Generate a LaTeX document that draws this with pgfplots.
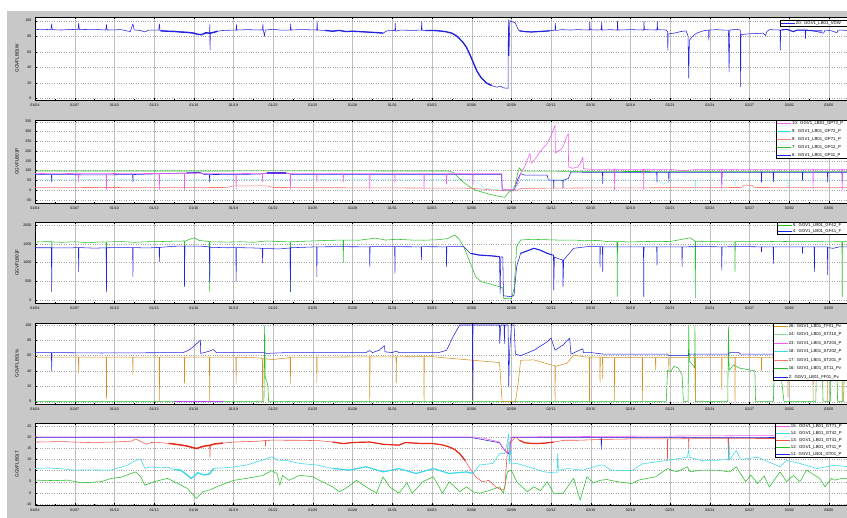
\documentclass[border=0pt]{standalone}
\usepackage{fontspec}
\setmainfont{Liberation Sans}
\usepackage{pgfplots}
\pgfplotsset{compat=1.18}
\definecolor{mblue}{RGB}{35,35,225}
\definecolor{mgreen}{RGB}{40,190,40}
\definecolor{mmag}{RGB}{245,90,245}
\definecolor{mcyan}{RGB}{60,215,235}
\definecolor{msalmon}{RGB}{250,120,110}
\definecolor{morange}{RGB}{215,145,35}
\definecolor{mred}{RGB}{230,40,25}
\definecolor{mgray}{RGB}{200,200,200}
\definecolor{mlgreen}{RGB}{130,220,150}
\pgfplotsset{
 mat/.style={
  scale only axis, width=833.7pt,
  xmin=0, xmax=63,
  xtick={0,3,...,60},
  xticklabels={01/04,01/07,01/10,01/13,01/16,01/19,01/22,01/25,01/28,01/31,02/03,02/06,02/09,02/12,02/15,02/18,02/21,02/24,02/27,03/02,03/05},
  minor x tick num=1, minor y tick num=1,
  tick align=inside,
  major tick length=2.2pt, minor tick length=1.3pt,
  every tick/.style={black, line width=0.3pt},
  xmajorgrids, ymajorgrids,
  every axis x grid/.append style={black!25, line width=0.35pt},
  every axis y grid/.append style={dotted, black!35, line width=0.35pt},
  axis line style={line width=0.4pt},
  tick label style={font=\fontsize{3.6}{4}\selectfont},
  /pgf/number format/assume math mode=true,
  /pgf/number format/1000 sep={},
  scaled y ticks=false,
  axis background/.style={fill=white},
  every axis y label/.style={at={(axis description cs:-0.0216,0.5)}, anchor=center, rotate=90, font=\fontsize{4.6}{5}\selectfont},
  legend cell align=left,
  legend style={anchor=north west, draw=black, line width=0.3pt, fill=white, font=\fontsize{4.3}{5}\selectfont, inner sep=0.6pt, nodes={text height=3.2pt, text depth=0.9pt, inner sep=0.5pt, text width=62pt, align=left}},
  legend image code/.code={\draw[##1, line width=0.7pt] (0pt,0pt) -- (14pt,0pt);},
  every axis plot/.append style={no marks, line width=0.55pt, line join=round, forget plot},
 }
}
\begin{document}
\begin{tikzpicture}
\useasboundingbox (0,0) rectangle (847pt,518pt);
\clip (0,0) rectangle (847pt,518pt);
\fill[mgray] (7pt,0) rectangle (847pt,507pt);

% ---------------- Panel 1
\begin{axis}[mat, at={(35pt,418pt)}, anchor=south west, height=83pt,
 ymin=-2.06, ymax=104.8, ytick={0,20,...,100}, ylabel={GGVFLB01W},
 legend style={at={(0.8936,0.964)}}]
\addplot[mblue] coordinates {(0,88.5)(0.5,89)(1.2,88.5)(1.26,96)(1.3,88.5)(2,88)(2.6,88.8)(3.25,88.5)(3.3,97)(3.35,88.5)(4.5,89)(5.35,88)(5.4,95)(5.45,88)(6.5,88.5)(7.2,86)(7.4,96)(7.5,88)(8,87.5)(8.3,85.5)(8.6,88)(9.35,88)(9.4,96)(9.45,87)(10,86.5)(10.5,86.2)(11,85.5)(11.5,85)(12,84)(12.3,82.5)(12.6,82)(12.9,84.5)(13.2,84)(13.21,96)(13.23,62)(13.25,84)(13.5,85)(13.8,86.5)(14.2,87.5)(15.2,88)(15.22,95)(15.25,88)(16,88.5)(17.2,88)(17.22,96)(17.25,88)(17.35,80)(17.4,88)(18,89)(18.5,88)(19.3,88)(19.32,96)(19.35,88)(20,88.5)(20.5,88.5)(21.3,88)(21.32,99)(21.35,88)(21.9,87.5)(22.5,86.5)(23,87.5)(23.5,86)(24,86.5)(24.5,86)(25,85.5)(25.5,85)(26,84.5)(26.3,84)(26.6,87)(27.2,87.5)(27.22,97)(27.25,86.5)(27.6,88)(28.5,87.5)(29.2,88)(29.22,99)(29.25,87.5)(30,87.5)(30.5,87)(31,86)(31.5,84)(31.9,80)(32.3,73)(32.6,66)(32.9,55)(33.1,47)(33.4,35)(33.7,27)(34.1,20)(34.5,16.5)(34.9,14.5)(35.2,15.5)(35.4,13.5)(35.75,13)(35.77,101)(35.82,55)(35.88,100)(36.3,97)(36.5,89)(36.6,87)(37,86)(37.5,85.5)(38,86)(38.5,86.5)(38.9,87)(39.3,88)(39.32,97)(39.35,87.5)(39.8,88.5)(40.5,88)(41,88.5)(41.9,88)(41.92,98)(41.95,88.5)(42.5,88)(42.8,88.5)(42.82,98)(42.85,88)(43.5,88.5)(44,88)(44.02,99)(44.05,88)(45,88.5)(46,88)(46.02,99)(46.05,88.5)(47,88)(47.02,99)(47.05,88.5)(47.7,88)(47.8,86)(47.82,62)(47.85,83)(48.3,84)(48.8,86)(49.2,87)(49.35,80)(49.4,26)(49.45,75)(49.7,80)(50,84)(50.5,87)(50.9,88)(50.92,75)(50.95,88)(51.5,88.5)(52,88)(52.4,88)(52.45,34)(52.5,88)(53,89)(53.3,88)(53.32,15)(53.35,82)(53.8,83)(54.5,83.5)(55,84)(55.2,81)(55.3,86)(55.5,88.5)(56.3,88)(56.32,62)(56.35,88)(56.8,89)(57.3,86)(57.6,88)(58.2,88)(58.22,77)(58.25,88)(58.8,87)(59.6,84)(59.7,88)(60.2,87)(60.6,84.5)(60.7,88)(61.5,87.5)(62.3,88)(63,88)};
\addplot[mblue, line width=1.4pt] coordinates {(9.5,87)(10,86.5)(10.5,86.2)(11,85.5)(11.5,85)(12,84)(12.3,82.5)(12.6,82)(12.9,84.5)(13.2,84)(13.5,85)(13.8,86.5)};
\addplot[mblue, line width=1.3pt] coordinates {(21.9,87.5)(22.5,86.5)(23,87.5)(23.5,86)(24,86.5)(24.5,86)(25,85.5)(25.5,85)(26,84.5)(26.3,84)};
\addplot[mblue, line width=1.3pt] coordinates {(29.5,87.5)(30,87.5)(30.5,87)(31,86)(31.5,84)(31.9,80)(32.3,73)(32.6,66)(32.9,55)(33.1,47)(33.4,35)(33.7,27)(34.1,20)(34.5,16.5)};
\addplot[mblue, line width=1.2pt] coordinates {(36.6,87)(37,86)(37.5,85.5)(38,86)(38.5,86.5)(38.9,87)};
\addplot[mblue, line width=1.0pt] coordinates {(56.4,88)(56.8,89)(57.3,86)(57.6,88)(58.1,88)(58.8,87)(59.5,87)};
\addlegendimage{mblue}\addlegendentry{20: GGV1\_LB01\_VDW}
\end{axis}

% ---------------- Panel 2
\begin{axis}[mat, at={(35pt,315pt)}, anchor=south west, height=83pt,
 ymin=-65.3, ymax=358.7, ytick={-50,0,...,350}, ylabel={GGVFLB01P},
 legend style={at={(0.889,1)}, row sep=2.9pt}]
\addplot[mblue] coordinates {(0,80)(1.24,80)(1.26,42)(1.28,80)(5,78)(7.38,80)(7.4,42)(7.42,80)(11.5,88)(12.5,90)(12.8,80)(13.18,80)(13.2,42)(13.22,80)(17,82)(17.5,88)(19,88)(19.5,80)(25,80)(30,80)(35.25,80)(35.3,0)(36.2,0)(36.5,60)(36.7,85)(37,77)(38.7,77)(38.8,51)(39.18,51)(39.2,9)(39.22,51)(39.88,51)(39.9,9)(39.92,51)(40.3,60)(40.5,93)(42,91)(42.88,91)(42.9,34)(42.92,91)(46.98,91)(47,42)(47.02,91)(47.88,91)(47.9,42)(47.92,91)(51.88,91)(51.9,30)(51.92,91)(54.88,91)(54.9,42)(54.92,91)(55.78,91)(55.8,42)(55.82,91)(57.98,91)(58,50)(58.02,91)(59.88,91)(59.9,40)(59.92,91)(60.98,91)(61,45)(61.02,91)(63,91)};
\addplot[mgreen] coordinates {(0,98)(10,98)(20,98.5)(31.3,98)(31.6,90)(32,65)(32.4,40)(32.8,20)(33.3,0)(33.8,-10)(34.3,-20)(34.8,-28)(35.2,-33)(35.5,-36)(35.8,-10)(36.1,0)(36.3,30)(36.5,95)(36.6,115)(36.8,98)(42,96)(50,95)(63,95)};
\addplot[msalmon] coordinates {(0,13)(5,14)(10,13)(14.5,14)(15,22)(17.5,22)(18,14)(25,12)(30,11)(33,10)(35.3,-3)(36.4,-3)(36.7,9)(40,11)(43.78,12)(43.8,0)(43.82,12)(50,13)(53.4,14)(53.6,26)(54.2,24)(54.4,14)(58,13)(63,13)};
\addplot[mcyan, densely dotted] coordinates {(0,53)(5,55)(10,52)(15,55)(20,54)(25,56)(30,55)(33,55)(33.5,35)(34,10)(35.3,0)(36.3,0)(36.7,55)(40,52)(45,51)(47,51)(47.5,30)(48,51)(49.88,51)(49.9,5)(49.92,51)(52.88,51)(52.9,20)(52.92,51)(56.88,51)(56.9,10)(56.92,51)(60,51)(63,51)};
\addplot[mmag] coordinates {(0,85)(1.5,86)(3.28,85)(3.3,42)(3.32,85)(5.38,85)(5.4,3)(5.42,85)(7,86)(9.38,85)(9.4,3)(9.42,85)(11.28,85)(11.3,3)(11.32,86)(12,88)(13,85)(15.18,85)(15.2,3)(15.22,85)(17.18,86)(17.2,42)(17.22,86)(19.28,86)(19.3,3)(19.32,85)(21.28,85)(21.3,42)(21.32,85)(23.28,85)(23.3,42)(23.32,85)(25.28,85)(25.3,3)(25.32,85)(27.18,85)(27.2,42)(27.22,85)(29.38,85)(29.4,3)(29.42,85)(31.08,85)(31.1,30)(31.12,85)(33.08,85)(33.1,30)(33.12,85)(35.28,85)(35.32,5)(36.2,3)(36.5,40)(36.7,85)(37,120)(37.4,188)(37.5,137)(37.8,160)(38.2,200)(38.7,238)(39,280)(39.3,332)(39.32,190)(39.5,200)(39.7,205)(39.9,222)(40.1,260)(40.3,290)(40.32,119)(40.6,112)(41,118)(41.2,135)(41.4,170)(41.45,110)(42,107)(43,106)(43.78,106)(43.8,3)(43.82,106)(45.98,106)(46,3)(46.02,106)(48,106)(49,100)(50,106)(51.88,106)(51.9,3)(51.92,106)(53,107)(55,106)(58.78,106)(58.8,3)(58.82,106)(60.98,106)(61,3)(61.02,106)(63,106)};
\addplot[mblue!70!mmag, line width=1.1pt] coordinates {(11.5,88)(12.5,90)};
\addplot[mblue!70!mmag, line width=1.1pt] coordinates {(17.5,88)(19,88)};
\addlegendimage{mmag}\addlegendentry{10: GGV1\_LB01\_GP73\_P}
\addlegendimage{mcyan}\addlegendentry{9: GGV1\_LB01\_GP72\_P}
\addlegendimage{msalmon}\addlegendentry{8: GGV1\_LB01\_GP71\_P}
\addlegendimage{mgreen}\addlegendentry{7: GGV1\_LB01\_GP12\_P}
\addlegendimage{mblue}\addlegendentry{6: GGV1\_LB01\_GP11\_P}
\end{axis}

% ---------------- Panel 3
\begin{axis}[mat, at={(35pt,215pt)}, anchor=south west, height=81pt,
 ymin=-71.7, ymax=2079.7, ytick={0,500,...,2000}, ylabel={GGVFLB01F},
 legend style={at={(0.890,1)}, row sep=0.9pt}]
\addplot[mgreen] coordinates {(0,1545)(1,1560)(1.25,1555)(1.26,880)(1.28,1550)(2,1540)(3,1555)(4,1530)(5,1550)(5.38,1545)(5.4,240)(5.42,1550)(6.5,1560)(7.5,1540)(8.5,1555)(9.5,1560)(10.5,1570)(11.28,1575)(11.3,380)(11.32,1570)(12,1660)(12.4,1590)(13.18,1560)(13.2,230)(13.22,1555)(14.5,1545)(15.5,1555)(16.5,1540)(17.5,1575)(18.5,1560)(19.28,1550)(19.3,230)(19.32,1555)(20.5,1570)(22,1590)(23.28,1600)(23.3,1000)(23.32,1600)(24.5,1595)(25.7,1650)(26.5,1600)(27.3,1620)(28.5,1600)(29.4,1595)(30.5,1610)(31.2,1640)(31.7,1734)(32,1650)(32.4,1424)(32.9,983)(33.3,627)(33.7,500)(34.2,451)(34.7,400)(35.1,362)(35.35,330)(35.4,50)(36,40)(36.2,300)(36.4,1424)(36.7,1601)(37.5,1620)(38.5,1610)(39.5,1600)(40.8,1600)(41.5,1580)(42.5,1590)(43.3,1560)(43.98,1560)(44,96)(44.02,1560)(45,1550)(46,1560)(47,1565)(48,1560)(49.5,1660)(49.88,1570)(49.9,60)(49.92,1570)(50.5,1560)(51.5,1555)(52.88,1550)(52.9,760)(52.92,1555)(54,1560)(55,1555)(56,1565)(57,1560)(58,1555)(59,1560)(60,1550)(60.98,1560)(61,96)(61.02,1560)(62,1555)(63,1555)};
\addplot[mblue] coordinates {(0,1395)(1.24,1395)(1.26,228)(1.28,1395)(2.5,1390)(3.28,1400)(3.3,760)(3.32,1400)(4.5,1385)(5.38,1395)(5.4,230)(5.42,1395)(6.5,1400)(7.38,1400)(7.4,628)(7.42,1400)(8.5,1390)(9.38,1405)(9.4,1027)(9.42,1405)(10.5,1435)(11.28,1440)(11.3,362)(11.32,1440)(12.5,1438)(13.18,1420)(13.2,500)(13.22,1410)(14.5,1395)(15.18,1400)(15.2,495)(15.22,1400)(16.5,1390)(17.18,1380)(17.2,1000)(17.22,1375)(18.5,1365)(19.28,1390)(19.3,228)(19.32,1395)(20.5,1410)(21.28,1420)(21.3,627)(21.32,1420)(23,1424)(25.28,1420)(25.3,893)(25.32,1424)(27.18,1425)(27.2,715)(27.22,1424)(29.18,1420)(29.2,1070)(29.22,1424)(31.08,1420)(31.1,893)(31.12,1424)(32.4,1424)(32.9,1248)(33.6,1200)(34.5,1180)(35.1,1159)(35.15,183)(35.2,1150)(35.35,1150)(35.4,120)(36,95)(36.2,140)(36.4,900)(36.7,1248)(37.7,1380)(38.2,1330)(38.7,1248)(39.18,1200)(39.2,274)(39.25,1150)(39.6,1100)(39.88,1070)(39.9,362)(39.95,1070)(40.7,1380)(41.7,1424)(42.68,1424)(42.7,893)(42.72,1424)(42.88,1424)(42.9,760)(42.92,1420)(44.5,1420)(45.98,1420)(46,96)(46.02,1420)(46.98,1420)(47,937)(47.02,1420)(48.88,1420)(48.9,893)(48.92,1420)(50.5,1425)(51.88,1420)(51.9,805)(51.92,1420)(53.5,1425)(54.88,1420)(54.9,1290)(54.92,1420)(55.78,1420)(55.8,980)(55.82,1420)(57.98,1420)(58,1248)(58.02,1420)(58.88,1420)(58.9,760)(58.92,1420)(59.88,1420)(59.9,672)(59.92,1400)(60.3,1380)(60.8,1420)(63,1420)};
\addplot[mblue, line width=1.1pt] coordinates {(32.9,1248)(33.6,1200)(34.5,1180)(35.1,1159)};
\addplot[mblue, line width=1.0pt] coordinates {(36.7,1248)(37.7,1380)(38.2,1330)(38.7,1248)(39.1,1200)};
\addlegendimage{mgreen}\addlegendentry{5: GGV1\_LB01\_GF42\_F}
\addlegendimage{mblue}\addlegendentry{4: GGV1\_LB01\_GF41\_F}
\end{axis}

% ---------------- Panel 4
\begin{axis}[mat, at={(35pt,114pt)}, anchor=south west, height=81pt,
 ymin=-3, ymax=102.6, ytick={0,20,...,100}, ylabel={GGVFLB01\%},
 legend style={at={(0.885,1)}, row sep=3.4pt}]
\addplot[mgreen] coordinates {(0,0.3)(17.3,0.3)(17.35,99)(17.4,30)(17.5,28)(17.6,20)(17.65,0.3)(47.7,0.3)(47.8,41)(48,39)(48.3,46)(48.6,44)(48.9,35)(49,0.3)(49.35,0.3)(49.4,98)(49.45,52)(49.7,48)(49.85,44)(49.87,98)(49.9,0.3)(52.35,0.3)(52.4,98)(52.45,41)(52.8,48)(53.2,44)(54.4,40)(54.45,0.3)(55.8,0.3)(55.85,41)(56.3,45)(56.6,0.3)(59,0.3)(59.05,40)(59.5,40)(59.55,0.3)(60.1,0.3)(60.15,42)(60.6,40)(60.65,0.3)(61.1,0.3)(61.15,38)(61.6,40)(61.65,0.3)(63,0.3)};
\addplot[mmag!70!mblue, line width=0.8pt] coordinates {(10.5,0.6)(14.2,0.6)};
\addplot[morange] coordinates {(0,58)(3.28,58)(3.3,37)(3.32,58)(5.38,58)(5.4,4)(5.42,58)(7.38,58)(7.4,35)(7.42,58)(9.38,58)(9.4,0)(9.42,58)(11.28,58)(11.3,24)(11.32,58)(13.18,58)(13.2,0)(13.22,58)(15.18,58)(15.2,24)(15.22,58)(17,57)(17.18,56)(17.2,0)(17.22,56)(18,55)(19,57)(19.28,58)(19.3,24)(19.32,58)(21.28,58)(21.3,25)(21.32,58)(25.28,58.5)(25.3,0)(25.32,58.5)(27.28,58.5)(27.3,25)(27.32,58.5)(29.38,58.7)(29.4,0)(29.42,58.7)(30,58.7)(33.08,54)(33.1,0)(33.12,54)(35.1,51)(35.3,0)(36.3,0)(36.5,22)(36.7,54)(37.7,54.5)(39,48)(39.28,47)(39.3,0)(39.32,46)(40.2,50)(40.7,61)(41.4,58.7)(41.88,58)(41.9,0)(41.92,58)(42.68,58)(42.7,25)(42.72,58)(42.88,58)(42.9,30)(42.92,57.5)(43.78,57.5)(43.8,0)(43.82,57.5)(45.88,57.5)(45.9,0)(45.92,57.5)(46.88,57.5)(46.9,41)(46.92,57.5)(47.88,57.5)(47.9,41)(47.92,57.5)(49.88,57.5)(49.9,0)(49.92,57.5)(51.88,57.5)(51.9,15)(51.92,57.5)(52.88,57.5)(52.9,0)(52.92,57.5)(54.88,57.5)(54.9,41)(54.92,57.5)(56.88,57.5)(56.9,6)(56.92,57.5)(58.78,57.5)(58.8,0)(58.82,57.5)(59.88,57.5)(59.9,0)(59.92,57.5)(60.98,57.5)(61,0)(61.02,57.5)(63,57.5)};
\addplot[mblue] coordinates {(0,64)(1.24,64)(1.26,40)(1.28,64)(5,63.5)(11.2,64)(11.6,67)(12,72)(12.3,77)(12.5,80.4)(12.52,63)(13,65)(13.5,68)(13.7,64)(17.3,64)(17.5,63)(19,64)(25,64)(25.3,66.6)(25.5,64)(26,67)(26.4,73)(26.45,65)(27,64)(27.3,66)(27.5,64)(30.5,64)(31.1,67)(31.6,85)(32.1,100)(33.05,100)(33.07,2)(33.1,100)(35.1,100)(35.12,76)(35.2,100)(35.45,100)(35.47,76)(35.5,100)(35.75,100)(35.8,20)(35.85,60)(36,100)(36.2,100)(36.3,62)(36.7,60)(37.7,67)(38.7,78)(39,83)(39.3,67)(39.9,74)(40.4,83)(40.5,62)(41,66)(41.4,69)(41.45,64)(42,64)(43,62)(47.8,62)(47.9,60)(49.3,60)(49.4,62)(52.4,62)(52.5,64)(53.2,64)(53.3,62)(63,62)};
\addlegendimage{morange}\addlegendentry{26: GGV1\_LB01\_TF01\_Pv}
\addlegendimage{mlgreen}\addlegendentry{24: GGV1\_LB01\_ST210\_P}
\addlegendimage{mmag}\addlegendentry{23: GGV1\_LB01\_ST204\_P}
\addlegendimage{mcyan}\addlegendentry{18: GGV1\_LB01\_ST202\_P}
\addlegendimage{msalmon}\addlegendentry{17: GGV1\_LB01\_ST201\_P}
\addlegendimage{mgreen}\addlegendentry{16: GGV1\_LB01\_ST11\_Pv}
\addlegendimage{mblue}\addlegendentry{2: GGV1\_LB01\_FF01\_Pv}
\end{axis}

% ---------------- Panel 5
\begin{axis}[mat, at={(35pt,13pt)}, anchor=south west, height=82pt,
 ymin=-10.45, ymax=26.35, ytick={-10,-5,...,25}, ylabel={GGVFLB01T},
 legend style={at={(0.8876,1)}, row sep=1.9pt}]
\addplot[mblue] coordinates {(0,19.8)(20,19.8)(33,19.8)(35.1,17.5)(35.5,14)(35.8,12.5)(36,19.8)(42.78,19.8)(42.8,14.5)(42.82,19.8)(52.38,19.8)(52.4,15)(52.42,19.8)(63,19.9)};
\addplot[mgreen] coordinates {(0,0.7)(1.5,0.5)(2.5,0.7)(3.5,-0.5)(5,0)(5.7,1.4)(6.5,2)(7.6,4.4)(8,2.2)(8.3,-1.6)(9,0)(10,1.5)(10.8,-0.8)(11.5,-3)(12.2,-7.5)(12.7,-4.5)(13.2,-3.7)(14,-1.6)(15,0.6)(16,1.5)(17.2,2.8)(17.9,5)(18.3,3.5)(18.5,-1.5)(18.7,2.8)(19.2,0.6)(20,2.9)(21,2.2)(21.5,0.6)(22.5,-2.3)(23,-4.5)(23.6,-2.5)(24.3,0.6)(25,-2.3)(25.8,-5.2)(26.3,2.2)(26.8,-2.3)(27.5,-5.2)(28.1,-0.5)(28.5,-5.2)(29.3,0)(30.1,2.2)(30.8,-5.2)(31.3,0)(32.1,-4.5)(32.6,-2.3)(33.1,-4.5)(33.6,-5.2)(34.3,-4)(35.1,-2.3)(35.4,-5.2)(35.7,4.4)(36,5.2)(36.4,0)(37.2,-4.5)(37.7,-2.3)(38.2,-4)(38.7,0)(39.2,-5.2)(39.9,-5.2)(40.7,1.5)(41.2,-8.3)(41.7,2.2)(42.2,-0.5)(42.7,0.6)(43.2,1)(44,0)(45.1,-0.8)(45.6,0.7)(46.9,2.2)(47.8,5.9)(48.5,4.4)(49.3,6.7)(49.5,4.4)(50.3,5.2)(51.5,5.2)(52.5,4.4)(53,6.7)(53.7,0)(54.1,3)(54.6,-0.8)(55.1,2.5)(55.5,-2.3)(56.3,4.4)(56.8,0)(57.3,2.8)(57.8,0)(58.3,5.2)(59.3,1.5)(59.7,-2.3)(60.2,1.5)(60.4,0.7)(61,1.5)(62,1)(63,1)};
\addplot[mred!80!white] coordinates {(0,17.8)(2,18)(4,17.6)(6,17.8)(7.3,18.2)(7.6,19.2)(8,18)(8.4,16.8)(8.8,17.6)(9.5,17.5)(10.1,17.2)(10.6,16.8)(11,16.5)(11.5,16)(12,15.2)(12.2,14.9)(12.5,15.5)(12.8,16)(13.2,16.3)(13.22,11)(13.25,16.3)(13.6,17)(14.2,17.3)(15,17.8)(16,18)(17,18.2)(17.4,18.5)(17.42,16)(17.45,18.5)(18,18.7)(19,18.6)(20,18.6)(21.5,18.4)(22.5,17.8)(23.3,17.1)(24,17.6)(25.3,17.8)(26.3,16.8)(27.5,16.4)(28,17.6)(29,17.2)(30.1,17.1)(30.8,16.5)(31.3,15.6)(31.7,14.5)(32.1,12.6)(32.5,9.5)(32.8,6.6)(33.3,2.2)(33.8,0)(34.3,0.6)(34.8,-2.3)(35.3,-3.8)(35.5,-3)(35.65,10)(35.75,17.1)(36,18)(36.3,20.1)(36.6,18.6)(37,17.5)(37.7,17.1)(38.5,17.3)(39.2,17.8)(40,18.6)(41,18.6)(42,18.8)(43,19)(45,19.2)(47.78,19.2)(47.8,9.6)(47.82,19.2)(49.38,19.3)(49.4,15)(49.42,19.3)(52.38,19.3)(52.4,9.6)(52.42,19.3)(55,19.4)(60,19.4)(63,19.4)};
\addplot[mred, line width=1.5pt] coordinates {(10.1,17.2)(10.6,16.8)(11,16.5)(11.5,16)(12,15.2)(12.2,14.9)(12.5,15.5)(12.8,16)(13.2,16.3)(13.6,17)(14.2,17.3)};
\addplot[mred, line width=1.2pt] coordinates {(22.5,17.8)(23.3,17.1)(24,17.6)(25.3,17.8)(26.3,16.8)(27.5,16.4)(28,17.6)(29,17.2)(30.1,17.1)(30.8,16.5)(31.3,15.6)(31.7,14.5)(32.1,12.6)(32.5,9.5)};
\addplot[mred, line width=1.2pt] coordinates {(36.6,18.6)(37,17.5)(37.7,17.1)(38.5,17.3)(39.2,17.8)};
\addplot[mcyan] coordinates {(0,5.9)(1,6.2)(2,5.8)(2.9,5.2)(4,5.3)(5.7,5.2)(6.5,6.5)(7,7.5)(7.6,9.6)(8,10)(8.3,6)(8.8,6.7)(9.5,6.2)(10,6.5)(10.5,5.5)(11,5.2)(11.5,3)(11.8,1.4)(12.3,4)(12.8,3)(13.2,3.5)(13.5,6)(14.2,6.2)(15,6.6)(16,7.5)(17.2,9.7)(17.9,11.2)(18.3,9.7)(19,9.5)(20,8.2)(21.3,7.5)(22.5,5.9)(23.8,5.2)(25,6.7)(26.3,4.4)(27.5,5.9)(28.8,3.7)(30.1,5.9)(31.3,3.7)(32.6,4.4)(33.1,3.7)(33.6,7.5)(34.6,8.2)(35.1,12.6)(35.5,12.6)(35.7,18)(35.8,21.5)(35.85,8)(35.9,17)(36,8)(36.4,8.2)(37.7,5.9)(38.5,4.4)(39.2,4)(39.45,4)(39.5,12.6)(39.55,5)(40.2,5.9)(41.4,5.2)(42.7,7.5)(43,7.4)(43.5,5.2)(45.1,5)(45.9,8)(47.8,9.6)(49.3,11)(49.4,14.5)(49.45,11)(50.3,9.6)(51.5,9.6)(52.4,10)(52.45,17.5)(52.5,10)(53,14)(53.3,10)(54.6,11)(56.3,6.7)(56.8,9.6)(57.8,8.2)(59.1,5.9)(60.4,7.4)(61.5,6.7)(63,7)};
\addplot[mcyan, line width=1.3pt] coordinates {(10.5,5.5)(11,5.2)(11.5,3)(11.8,1.4)(12.3,4)(12.8,3)(13.2,3.5)(13.5,6)};
\addplot[mcyan, line width=1.1pt] coordinates {(22.5,5.9)(23.8,5.2)(25,6.7)(26.3,4.4)(27.5,5.9)(28.8,3.7)(30.1,5.9)(31.3,3.7)(32.6,4.4)(33.1,3.7)};
\addplot[mmag] coordinates {(0,20.1)(33.1,20.1)(34,19.4)(35.1,17.8)(35.4,14.9)(35.7,12.6)(35.9,14)(36,20.1)(45,20.4)(55,20.7)(63,20.9)};
\addlegendimage{mmag}\addlegendentry{15: GGV1\_LB01\_GT71\_P}
\addlegendimage{mcyan}\addlegendentry{14: GGV1\_LB01\_GT42\_P}
\addlegendimage{mred!80!white}\addlegendentry{13: GGV1\_LB01\_GT41\_P}
\addlegendimage{mgreen}\addlegendentry{12: GGV1\_LB01\_GT11\_P}
\addlegendimage{mblue}\addlegendentry{11: GGV1\_LB01\_GT01\_P}
\end{axis}
\end{tikzpicture}
\end{document}
